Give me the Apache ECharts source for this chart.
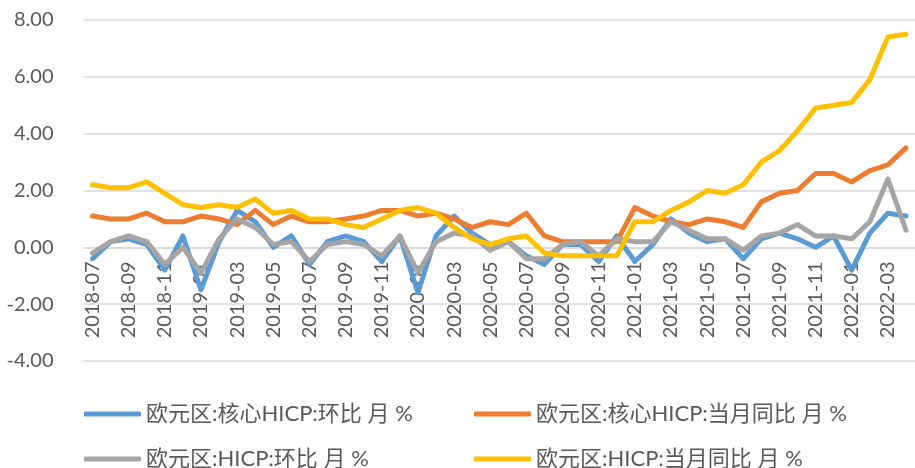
<!DOCTYPE html>
<html>
<head>
<meta charset="utf-8">
<style>
  html, body { margin: 0; padding: 0; background: #fff; }
  #chart { width: 915px; height: 468px; }
</style>
<script src="https://cdn.jsdelivr.net/npm/echarts@6/dist/echarts.min.js"></script>
</head>
<body>
<div id="chart"></div>
<script>
// 月份
const months = [
  '2018-07', '2018-08', '2018-09', '2018-10', '2018-11', '2018-12',
  '2019-01', '2019-02', '2019-03', '2019-04', '2019-05', '2019-06',
  '2019-07', '2019-08', '2019-09', '2019-10', '2019-11', '2019-12',
  '2020-01', '2020-02', '2020-03', '2020-04', '2020-05', '2020-06',
  '2020-07', '2020-08', '2020-09', '2020-10', '2020-11', '2020-12',
  '2021-01', '2021-02', '2021-03', '2021-04', '2021-05', '2021-06',
  '2021-07', '2021-08', '2021-09', '2021-10', '2021-11', '2021-12',
  '2022-01', '2022-02', '2022-03', '2022-04'
]
// 欧元区:核心HICP:环比
const coreMom = [
  -0.4, 0.2, 0.3, 0.1, -0.8, 0.4,
  -1.5, 0.2, 1.3, 0.9, 0.0, 0.4,
  -0.6, 0.2, 0.4, 0.2, -0.5, 0.4,
  -1.6, 0.4, 1.1, 0.5, 0.1, 0.2,
  -0.3, -0.6, 0.1, 0.1, -0.5, 0.4,
  -0.5, 0.1, 1.0, 0.5, 0.2, 0.3,
  -0.4, 0.3, 0.5, 0.3, 0.0, 0.4,
  -0.8, 0.5, 1.2, 1.1
]
// 欧元区:核心HICP:当月同比
const coreYoy = [
  1.1, 1.0, 1.0, 1.2, 0.9, 0.9,
  1.1, 1.0, 0.8, 1.3, 0.8, 1.1,
  0.9, 0.9, 1.0, 1.1, 1.3, 1.3,
  1.1, 1.2, 1.0, 0.7, 0.9, 0.8,
  1.2, 0.4, 0.2, 0.2, 0.2, 0.2,
  1.4, 1.1, 0.9, 0.8, 1.0, 0.9,
  0.7, 1.6, 1.9, 2.0, 2.6, 2.6,
  2.3, 2.7, 2.9, 3.5
]
// 欧元区:HICP:环比
const hicpMom = [
  -0.2, 0.2, 0.4, 0.2, -0.6, 0.0,
  -0.9, 0.3, 1.0, 0.7, 0.1, 0.2,
  -0.5, 0.1, 0.2, 0.1, -0.3, 0.4,
  -0.9, 0.2, 0.5, 0.4, -0.1, 0.2,
  -0.4, -0.4, 0.1, 0.2, -0.3, 0.3,
  0.2, 0.2, 0.9, 0.6, 0.3, 0.3,
  -0.1, 0.4, 0.5, 0.8, 0.4, 0.4,
  0.3, 0.9, 2.4, 0.6
]
// 欧元区:HICP:当月同比
const hicpYoy = [
  2.2, 2.1, 2.1, 2.3, 1.9, 1.5,
  1.4, 1.5, 1.4, 1.7, 1.2, 1.3,
  1.0, 1.0, 0.8, 0.7, 1.0, 1.3,
  1.4, 1.2, 0.7, 0.3, 0.1, 0.3,
  0.4, -0.2, -0.3, -0.3, -0.3, -0.3,
  0.9, 0.9, 1.3, 1.6, 2.0, 1.9,
  2.2, 3.0, 3.4, 4.1, 4.9, 5.0,
  5.1, 5.9, 7.4, 7.5
]
const seriesNames = [
  '欧元区:核心HICP:环比 月 %',
  '欧元区:核心HICP:当月同比 月 %',
  '欧元区:HICP:环比 月 %',
  '欧元区:HICP:当月同比 月 %'
]
const colors = ['#5B9BD5', '#ED7D31', '#A5A5A5', '#FFC000']

const font = 'Lato, "Noto Sans CJK SC", sans-serif'
const textColor = '#595959'
const gridColor = '#D9D9D9'

// 绘图区
const gridTop = 20
const gridBottom = 107
const yMin = -4
const yMax = 8
const plotHeight = 468 - gridTop - gridBottom
// 分类轴放在 0 值处
const zeroOffset = -plotHeight * (0 - yMin) / (yMax - yMin)

const chart = echarts.init(document.getElementById('chart'))

// 图例：两行两列, 每项单独一个 legend 方便对齐
const legendPos = [[79, 397], [469, 397], [79, 442], [469, 442]]
const legends = seriesNames.map((name, i) => ({
  data: [name],
  left: legendPos[i][0],
  top: legendPos[i][1],
  icon: 'roundRect',
  itemWidth: 57,
  itemHeight: 5,
  textStyle: { fontFamily: font, fontSize: 22, lineHeight: 24, color: textColor }
}))

const option = {
  animation: false,
  color: colors,
  grid: { left: 83.5, right: -3.5, top: gridTop, bottom: gridBottom, containLabel: false },
  legend: legends,
  xAxis: {
    type: 'category',
    data: months,
    boundaryGap: true,
    position: 'bottom',
    offset: zeroOffset,
    axisLine: { onZero: false, lineStyle: { color: gridColor, width: 1.5 } },
    axisTick: { interval: 1, length: 6, lineStyle: { color: gridColor, width: 1.5 } },
    axisLabel: {
      interval: 1,
      rotate: 90,
      margin: 14,
      fontFamily: font,
      fontSize: 20,
      color: textColor
    }
  },
  yAxis: {
    type: 'value',
    min: yMin,
    max: yMax,
    interval: 2,
    axisLine: { show: false },
    axisTick: { show: false },
    splitLine: { lineStyle: { color: gridColor, width: 1.5 } },
    axisLabel: {
      margin: 30,
      fontFamily: font,
      fontSize: 20,
      color: textColor,
      formatter: v => v.toFixed(2)
    }
  },
  series: [coreMom, coreYoy, hicpMom, hicpYoy].map((d, i) => ({
    name: seriesNames[i],
    type: 'line',
    data: d,
    symbol: 'none',
    lineStyle: { width: 5, cap: 'round', join: 'round' }
  }))
}

chart.setOption(option)
</script>
</body>
</html>
